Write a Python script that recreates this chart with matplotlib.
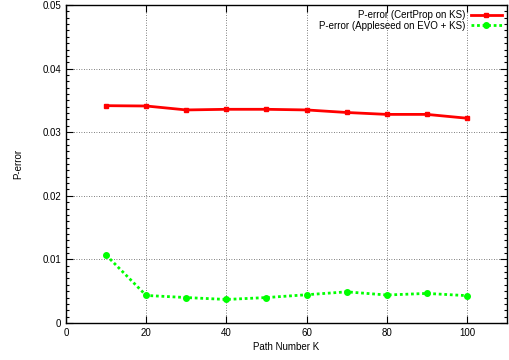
import matplotlib
matplotlib.use("Agg")
import matplotlib.pyplot as plt
from matplotlib.ticker import MultipleLocator, FuncFormatter

path_k = [10, 20, 30, 40, 50, 60, 70, 80, 90, 100]
certprop = [0.03417, 0.03412, 0.0335, 0.0336, 0.0336, 0.0335, 0.0331, 0.0328, 0.0328, 0.0322]
appleseed = [0.01068, 0.00433, 0.0040, 0.0037, 0.0040, 0.00444, 0.0049, 0.0044, 0.00465, 0.0043]

plt.rcParams["font.family"] = ["Liberation Sans", "DejaVu Sans"]
plt.rcParams["font.size"] = 7

fig = plt.figure(figsize=(5.09, 3.6), dpi=100)
ax = fig.add_axes([0.1297, 0.1028, 0.8663, 0.8833])

ax.plot(path_k, certprop, color="#ff0000", lw=2, marker="s", ms=3.2,
        label="P-error (CertProp on KS)")
ax.plot(path_k, appleseed, color="#00ff00", lw=2, ls=(0, (1, 1)), marker="o", ms=4,
        label="P-error (Appleseed on EVO + KS)")

ax.set_xlim(0, 110)
ax.set_ylim(0, 0.05)
ax.xaxis.set_major_locator(MultipleLocator(20))
ax.yaxis.set_major_locator(MultipleLocator(0.01))
ax.yaxis.set_minor_locator(MultipleLocator(0.001))
ax.yaxis.set_major_formatter(FuncFormatter(lambda v, p: "0" if abs(v) < 1e-9 else f"{v:g}"))
ax.tick_params(which="both", direction="in", top=True, right=True, width=0.8)
ax.tick_params(which="major", length=5)
ax.tick_params(which="minor", length=2.5)
ax.grid(True, which="major", ls=(0, (1, 2)), color="#555555", lw=0.6)
for s in ax.spines.values():
    s.set_linewidth(1)

ax.set_xlabel("Path Number K", labelpad=3)
ax.set_ylabel("P-error", labelpad=14)

ax.legend(loc="upper right", markerfirst=False, frameon=False, handlelength=3.2,
          borderaxespad=0.15, labelspacing=0.05, handletextpad=0.5)

fig.savefig("out.png", dpi=100)
